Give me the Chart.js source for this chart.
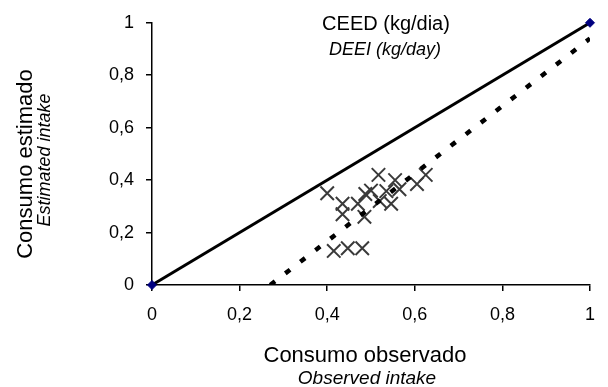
<!DOCTYPE html>
<html>
<head>
<meta charset="utf-8">
<script src="https://cdn.jsdelivr.net/npm/chart.js@4/dist/chart.umd.min.js"></script>
<style>
  html, body { margin: 0; padding: 0; background: #fff; }
  #wrap { width: 608px; height: 387px; }
</style>
</head>
<body>
<div id="wrap"><canvas id="c" width="608" height="387"></canvas></div>
<script>
// Observed intake (x) and estimated intake (y), kg/day
const observed = [0.40, 0.435, 0.485, 0.415, 0.447, 0.48, 0.517, 0.50, 0.52, 0.565, 0.625, 0.555, 0.47, 0.487, 0.435, 0.535, 0.605, 0.546];
const estimated = [0.35, 0.27, 0.26, 0.13, 0.14, 0.14, 0.42, 0.36, 0.32, 0.365, 0.42, 0.40, 0.31, 0.347, 0.31, 0.358, 0.385, 0.31];
// identity line y = x
const identityX = [0, 1];
const identityY = [0, 1];
// fitted regression line
const fitX = [0.27, 1];
const fitY = [0, 0.94];
const tickValues = [0, 0.2, 0.4, 0.6, 0.8, 1];
const tickLabels = ['0', '0,2', '0,4', '0,6', '0,8', '1'];

const toPts = (xs, ys) => xs.map((x, i) => ({ x: x, y: ys[i] }));
const FONT = '"Liberation Sans", Arial, sans-serif';

const textPlugin = {
  id: 'texts',
  afterDraw(chart) {
    const ctx = chart.ctx;
    ctx.save();
    ctx.fillStyle = '#000';
    ctx.textBaseline = 'alphabetic';
    ctx.textAlign = 'center';
    ctx.font = '20px ' + FONT;
    ctx.fillText('CEED (kg/dia)', 386, 29.5);
    ctx.font = 'italic 18px ' + FONT;
    ctx.fillText('DEEI (kg/day)', 385, 55);
    ctx.font = '22px ' + FONT;
    ctx.fillText('Consumo observado', 365, 362);
    ctx.font = 'italic 19px ' + FONT;
    ctx.fillText('Observed intake', 367, 384);
    ctx.save();
    ctx.translate(32, 164);
    ctx.rotate(-Math.PI / 2);
    ctx.font = '22px ' + FONT;
    ctx.fillText('Consumo estimado', 0, 0);
    ctx.restore();
    ctx.save();
    ctx.translate(50, 160);
    ctx.rotate(-Math.PI / 2);
    ctx.font = 'italic 18px ' + FONT;
    ctx.fillText('Estimated intake', 0, 0);
    ctx.restore();
    ctx.restore();
  }
};

const fmt = v => {
  const i = tickValues.findIndex(t => Math.abs(t - v) < 1e-9);
  return i >= 0 ? tickLabels[i] : '';
};

new Chart(document.getElementById('c'), {
  type: 'scatter',
  data: {
    datasets: [
      {
        label: 'fit',
        data: toPts(fitX, fitY),
        showLine: true,
        borderColor: '#000',
        borderWidth: 4.5,
        borderDash: [6, 13],
        borderCapStyle: 'butt',
        pointRadius: 0,
        order: 1
      },
      {
        label: 'identity',
        data: toPts(identityX, identityY),
        showLine: true,
        borderColor: '#000',
        borderWidth: 3,
        pointStyle: 'rectRot',
        pointRadius: 4.5,
        pointBackgroundColor: '#000080',
        pointBorderColor: '#000080',
        pointBorderWidth: 1,
        clip: false,
        order: 2
      },
      {
        label: 'obs',
        data: toPts(observed, estimated),
        pointStyle: 'crossRot',
        pointRadius: 9.5,
        pointBorderColor: '#3a3a3a',
        pointBorderWidth: 2,
        order: 3
      }
    ]
  },
  options: {
    responsive: false,
    devicePixelRatio: 1,
    animation: false,
    layout: { padding: { top: 20, right: 5, left: 0, bottom: 0 } },
    plugins: { legend: { display: false }, tooltip: { enabled: false }, title: { display: false } },
    scales: {
      x: {
        type: 'linear',
        min: 0, max: 1,
        afterBuildTicks: s => { s.ticks = tickValues.map(v => ({ value: v })); },
        afterFit: s => { s.height = 102; },
        border: { display: true, color: '#000', width: 1.5 },
        grid: { display: true, drawOnChartArea: false, drawTicks: true, tickLength: 6, color: '#000', lineWidth: 1.5 },
        ticks: { color: '#000', font: { family: FONT, size: 18 }, padding: 13, maxRotation: 0, callback: v => fmt(v) }
      },
      y: {
        type: 'linear',
        min: 0, max: 1,
        afterBuildTicks: s => { s.ticks = tickValues.map(v => ({ value: v })); },
        afterFit: s => { s.width = 152; },
        border: { display: true, color: '#000', width: 1.5 },
        grid: { display: true, drawOnChartArea: false, drawTicks: true, tickLength: 6, color: '#000', lineWidth: 1.5 },
        ticks: { color: '#000', font: { family: FONT, size: 18 }, padding: 12, callback: v => fmt(v) }
      }
    }
  },
  plugins: [textPlugin]
});
</script>
</body>
</html>
